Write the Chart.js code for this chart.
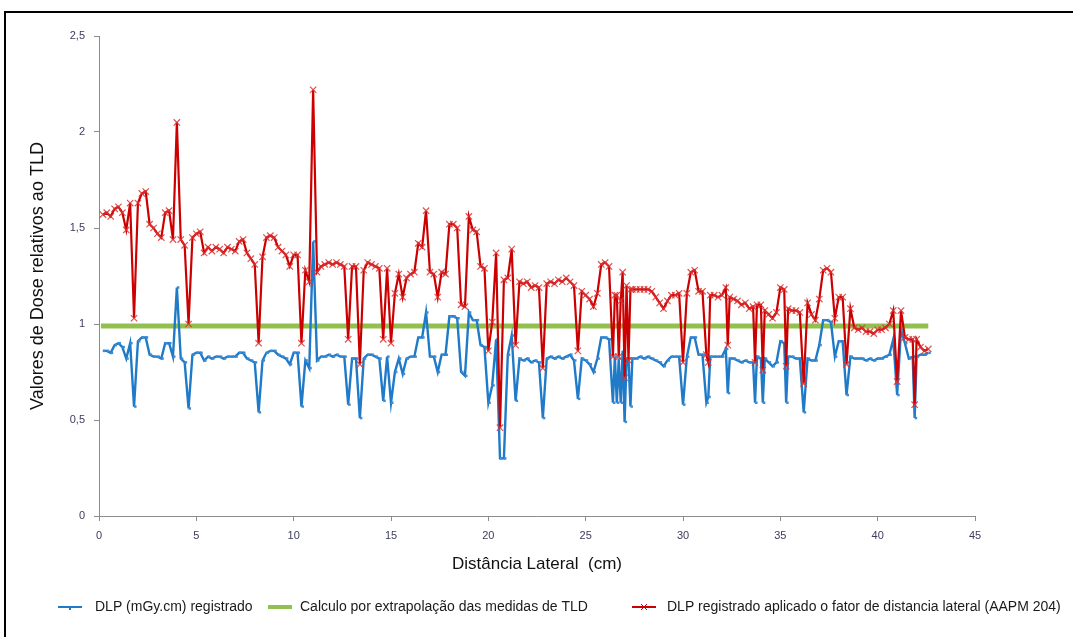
<!DOCTYPE html>
<html><head><meta charset="utf-8">
<script src="https://cdn.jsdelivr.net/npm/chart.js@4.4.0/dist/chart.umd.min.js"></script>
<style>
html,body{margin:0;padding:0;background:#fff;overflow:hidden;width:1073px;height:637px;}
#frame{position:absolute;left:4px;top:11px;width:1100px;height:700px;border:2px solid #000;box-sizing:border-box;}
#wrap{position:absolute;left:0;top:0;width:1073px;height:637px;}
</style></head><body>
<div id="frame"></div>
<div id="wrap"><canvas id="c" width="1073" height="637"></canvas></div>
<script>
// Distância lateral (cm)
const distancia = [
0.2,0.4,0.6,0.8,1.0,1.2,1.4,1.6,1.8,2.0,
2.2,2.4,2.6,2.8,3.0,3.2,3.4,3.6,3.8,4.0,
4.2,4.4,4.6,4.8,5.0,5.2,5.4,5.6,5.8,6.0,
6.2,6.4,6.6,6.8,7.0,7.2,7.4,7.6,7.8,8.0,
8.2,8.4,8.6,8.8,9.0,9.2,9.4,9.6,9.8,10.0,
10.2,10.4,10.6,10.8,11.0,11.2,11.4,11.6,11.8,12.0,
12.2,12.4,12.6,12.8,13.0,13.2,13.4,13.6,13.8,14.0,
14.2,14.4,14.6,14.8,15.0,15.2,15.4,15.6,15.8,16.0,
16.2,16.4,16.6,16.8,17.0,17.2,17.4,17.6,17.8,18.0,
18.2,18.4,18.6,18.8,19.0,19.2,19.4,19.6,19.8,20.0,
20.2,20.4,20.6,20.8,21.0,21.2,21.4,21.6,21.8,22.0,
22.2,22.4,22.6,22.8,23.0,23.2,23.4,23.6,23.8,24.0,
24.2,24.4,24.6,24.8,25.0,25.2,25.4,25.6,25.8,26.0,
26.2,26.4,26.5,26.6,26.7,26.8,26.9,27.0,27.1,27.2,
27.3,27.4,27.6,27.8,28.0,28.2,28.4,28.6,28.8,29.0,
29.2,29.4,29.6,29.8,30.0,30.2,30.4,30.6,30.8,31.0,
31.2,31.3,31.4,31.6,31.8,32.0,32.2,32.3,32.4,32.6,
32.8,33.0,33.2,33.4,33.6,33.7,33.8,34.0,34.1,34.2,
34.4,34.6,34.8,35.0,35.2,35.3,35.4,35.6,35.8,36.0,
36.2,36.4,36.6,36.8,37.0,37.2,37.4,37.6,37.8,38.0,
38.2,38.4,38.6,38.8,39.0,39.2,39.4,39.6,39.8,40.0,
40.2,40.4,40.6,40.8,41.0,41.2,41.4,41.6,41.8,41.9,
42.0,42.2,42.4,42.6
];
// DLP (mGy.cm) registrado
const dlpRegistrado = [
0.86,0.86,0.85,0.89,0.90,0.88,0.82,0.90,0.57,0.91,
0.93,0.93,0.84,0.83,0.83,0.82,0.90,0.90,0.83,1.19,
0.82,0.80,0.56,0.84,0.85,0.85,0.81,0.83,0.82,0.83,
0.83,0.82,0.83,0.83,0.83,0.85,0.85,0.82,0.81,0.80,
0.54,0.81,0.85,0.86,0.86,0.84,0.83,0.82,0.79,0.85,
0.85,0.57,0.81,0.77,1.43,0.81,0.83,0.83,0.84,0.83,
0.84,0.83,0.83,0.58,0.82,0.82,0.51,0.82,0.84,0.84,
0.83,0.82,0.60,0.83,0.59,0.75,0.82,0.74,0.82,0.83,
0.83,0.93,0.93,1.06,0.83,0.83,0.75,0.84,0.84,1.04,
1.04,1.03,0.75,0.73,1.06,1.02,1.02,0.89,0.88,0.59,
0.68,0.92,0.30,0.30,0.84,0.94,0.60,0.82,0.81,0.82,
0.80,0.81,0.80,0.51,0.82,0.83,0.82,0.83,0.82,0.83,
0.84,0.81,0.61,0.82,0.81,0.79,0.75,0.82,0.93,0.93,
0.92,0.59,0.83,0.59,0.82,0.59,0.86,0.49,0.82,0.82,
0.57,0.82,0.82,0.83,0.82,0.83,0.82,0.81,0.80,0.78,
0.81,0.83,0.83,0.83,0.58,0.83,0.93,0.93,0.84,0.84,
0.59,0.62,0.83,0.83,0.83,0.83,0.87,0.64,0.82,0.82,
0.81,0.80,0.81,0.80,0.80,0.59,0.83,0.82,0.59,0.82,
0.80,0.78,0.80,0.91,0.90,0.59,0.83,0.83,0.82,0.82,
0.54,0.82,0.81,0.81,0.89,1.02,1.02,1.01,0.83,0.91,
0.91,0.63,0.83,0.82,0.82,0.82,0.81,0.82,0.81,0.82,
0.82,0.83,0.84,0.92,0.63,0.97,0.90,0.82,0.83,0.51,
0.83,0.84,0.84,0.85
];
// DLP registrado aplicado o fator de distancia lateral (AAPM 204)
const dlpCorrigido = [
1.57,1.58,1.56,1.60,1.61,1.58,1.49,1.63,1.03,1.63,
1.68,1.69,1.52,1.50,1.47,1.45,1.58,1.59,1.44,2.05,
1.44,1.41,1.00,1.45,1.47,1.48,1.37,1.40,1.38,1.40,
1.39,1.37,1.40,1.39,1.38,1.43,1.44,1.37,1.34,1.31,
0.90,1.35,1.45,1.46,1.45,1.40,1.38,1.36,1.30,1.36,
1.36,0.90,1.28,1.22,2.22,1.27,1.30,1.31,1.32,1.31,
1.32,1.31,1.30,0.92,1.30,1.30,0.79,1.28,1.32,1.31,
1.30,1.29,0.92,1.29,0.90,1.16,1.26,1.14,1.24,1.26,
1.27,1.42,1.40,1.59,1.27,1.26,1.14,1.27,1.26,1.52,
1.52,1.50,1.10,1.09,1.56,1.49,1.48,1.30,1.29,0.86,
1.01,1.37,0.46,1.23,1.24,1.39,0.89,1.22,1.21,1.22,
1.19,1.20,1.19,0.77,1.21,1.22,1.21,1.23,1.22,1.24,
1.22,1.20,0.86,1.17,1.15,1.13,1.09,1.16,1.31,1.32,
1.30,0.83,1.15,1.15,0.83,1.12,1.27,0.72,1.20,0.81,
1.18,1.18,1.18,1.18,1.18,1.18,1.17,1.14,1.11,1.08,
1.12,1.15,1.15,1.16,0.80,1.16,1.27,1.28,1.17,1.17,
0.84,0.80,1.15,1.15,1.14,1.15,1.19,0.89,1.14,1.13,
1.12,1.10,1.11,1.08,1.09,0.80,1.10,1.10,0.76,1.07,
1.05,1.03,1.06,1.19,1.18,0.78,1.08,1.07,1.07,1.06,
0.69,1.11,1.05,1.02,1.13,1.28,1.29,1.27,1.03,1.14,
1.14,0.79,1.08,0.98,0.97,0.98,0.96,0.96,0.95,0.97,
0.97,0.98,1.00,1.07,0.70,1.07,0.93,0.92,0.92,0.58,
0.92,0.88,0.86,0.87
];
// Calculo por extrapolação das medidas de TLD
const tldDistancia = [0.1, 42.6];
const tldValor = [0.99, 0.99];

const serieNomes = [
  'DLP (mGy.cm) registrado',
  'Calculo por extrapolação das medidas de TLD',
  'DLP registrado aplicado o fator de distancia lateral (AAPM 204)'
];
const tituloX = 'Distância Lateral  (cm)';
const tituloY = 'Valores de Dose relativos ao TLD';

const AZUL = '#1f7ac8', VERDE = '#92c04e', VERMELHO = '#cc0000';
const FONT = "'Liberation Sans', Arial, sans-serif";

const pts = (xs, ys) => xs.map((x, i) => ({x: x, y: ys[i]}));

const legendaPlugin = {
  id: 'legendaInferior',
  afterDraw(chart) {
    const ctx = chart.ctx;
    const y = 607;
    const itens = [
      {cor: AZUL, sx: 58, tx: 95, w: 168, marca: 'dash', lw: 2},
      {cor: VERDE, sx: 268, tx: 300, w: 326, marca: null, lw: 4},
      {cor: VERMELHO, sx: 632, tx: 667, w: 402, marca: 'x', lw: 2}
    ];
    ctx.save();
    itens.forEach((it, i) => {
      ctx.strokeStyle = it.cor;
      ctx.lineWidth = it.lw;
      ctx.beginPath();
      ctx.moveTo(it.sx, y); ctx.lineTo(it.sx + 24, y);
      ctx.stroke();
      const cx = it.sx + 12;
      if (it.marca === 'dash') {
        ctx.lineWidth = 2;
        ctx.beginPath(); ctx.moveTo(cx, y); ctx.lineTo(cx, y + 3); ctx.stroke();
      } else if (it.marca === 'x') {
        ctx.lineWidth = 1;
        ctx.beginPath();
        ctx.moveTo(cx - 3, y - 3); ctx.lineTo(cx + 3, y + 3);
        ctx.moveTo(cx - 3, y + 3); ctx.lineTo(cx + 3, y - 3);
        ctx.stroke();
      }
      ctx.fillStyle = '#1a1a1a';
      ctx.font = '14px ' + FONT;
      ctx.textBaseline = 'middle';
      ctx.textAlign = 'left';
      ctx.fillText(serieNomes[i], it.tx, y, it.w);
    });
    ctx.restore();
  }
};

new Chart(document.getElementById('c'), {
  type: 'line',
  data: {
    datasets: [
      {
        label: serieNomes[2],
        data: pts(distancia, dlpCorrigido),
        borderColor: VERMELHO,
        backgroundColor: VERMELHO,
        borderWidth: 2.2,
        pointStyle: 'crossRot',
        pointRadius: 4.5,
        pointBorderColor: 'rgba(220,50,50,0.85)',
        pointBorderWidth: 1.2,
        tension: 0,
        order: 0
      },
      {
        label: serieNomes[0],
        data: pts(distancia, dlpRegistrado),
        borderColor: AZUL,
        backgroundColor: AZUL,
        borderWidth: 2.4,
        pointStyle: 'dash',
        pointRadius: 2.5,
        pointBorderColor: '#3d8bd4',
        pointBorderWidth: 2.5,
        tension: 0,
        order: 1
      },
      {
        label: serieNomes[1],
        data: pts(tldDistancia, tldValor),
        borderColor: VERDE,
        backgroundColor: VERDE,
        borderWidth: 5,
        pointRadius: 0,
        tension: 0,
        order: 2
      }
    ]
  },
  options: {
    responsive: false,
    animation: false,
    devicePixelRatio: 1,
    layout: {padding: {left: 8, right: 98, top: 36, bottom: 45}},
    plugins: {legend: {display: false}, tooltip: {enabled: false}},
    scales: {
      x: {
        type: 'linear', min: 0, max: 45,
        ticks: {stepSize: 5, color: '#3c3c5c', font: {family: FONT, size: 11}, padding: 8, maxRotation: 0},
        grid: {display: true, drawOnChartArea: false, drawTicks: true, tickLength: 5, color: '#8c8c8c'},
        border: {display: true, color: '#8c8c8c', width: 1},
        title: {display: true, text: tituloX, color: '#111', font: {family: FONT, size: 17}, padding: {top: 0, bottom: 17}},
        afterFit: s => { s.height = 76; }
      },
      y: {
        min: 0, max: 2.5,
        ticks: {stepSize: 0.5, color: '#3c3c5c', font: {family: FONT, size: 11}, padding: 9,
          callback: v => String(v).replace('.', ',')},
        grid: {display: true, drawOnChartArea: false, drawTicks: true, tickLength: 5, color: '#8c8c8c'},
        border: {display: true, color: '#8c8c8c', width: 1},
        title: {display: true, text: tituloY, color: '#111', font: {family: FONT, size: 18}, padding: {top: 19, bottom: 0}},
        afterFit: s => { s.width = 91; }
      }
    }
  },
  plugins: [legendaPlugin]
});
</script>
</body></html>
